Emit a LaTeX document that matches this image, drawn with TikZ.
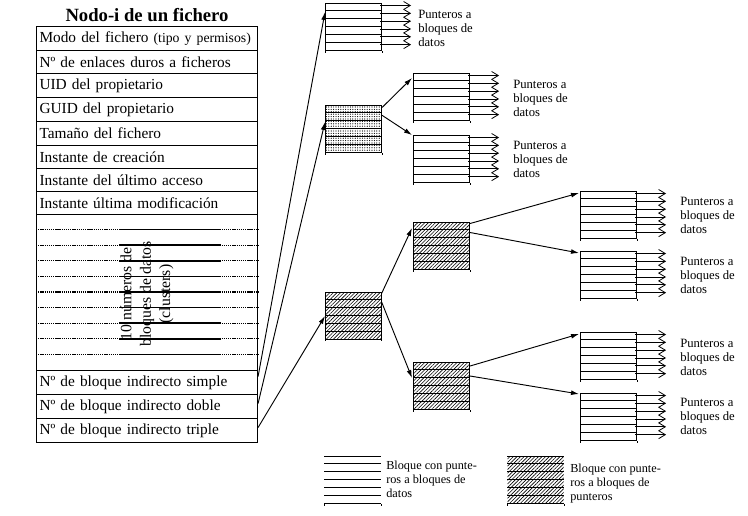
\documentclass[tikz,border=0pt]{standalone}
\usepackage{fontspec}
\setmainfont{Liberation Serif}
\usetikzlibrary{arrows.meta,patterns.meta,calc}

\tikzset{
  lw/.style={line width=0.7pt},
  row/.style={draw, line width=0.8pt, anchor=north west, minimum width=221*0.75pt,
    text width=215*0.75pt, align=left, inner xsep=2.25pt, inner ysep=0pt,
    font=\fontsize{11.5}{13}\selectfont},
  blk/.style={draw, line width=0.8pt, anchor=north west, minimum width=56*0.75pt,
    minimum height=47*0.75pt, inner sep=0pt},
  hatchfill/.style={pattern={Lines[angle=45,distance=1.9pt,line width=0.45pt]}},
  dotfill/.style={pattern={Dots[radius=0.45pt,distance=1.8pt]}},
  ptr/.style={line width=0.6pt, -{Straight Barb[length=5pt,width=6pt]}},
  conn/.style={line width=0.7pt, -{Latex[length=6pt,width=3.6pt]}},
  lbl/.style={anchor=north west, align=left, inner sep=0pt,
    font=\fontsize{9.5}{10.6}\selectfont},
}

\newcommand\blklines[1]{%
  \foreach \k in {1,...,5}{\draw[lw] ($(#1.north west)+(0,\k*7.83)$) -- ($(#1.north east)+(0,\k*7.83)$);}%
  \draw[lw] (#1.south west) -- ++(0,1.5) (#1.south east) -- ++(0,1.5);%
}
\newcommand\datablk[3]{%
  \node[blk] (#1) at (#2,#3) {};
  \blklines{#1}%
  \foreach \k in {0,...,5}{\draw[ptr] ($(#1.north east)+(-2,2.5+\k*7.83)$) -- ++(31,0);}%
}
\newcommand\ptrblk[4]{%
  \node[blk, #4] (#1) at (#2,#3) {};
  \blklines{#1}%
}

\begin{document}
\begin{tikzpicture}[x=0.75pt,y=-0.75pt]
\useasboundingbox (0,0) rectangle (748,515);

% ---- title and i-node table
\node[font=\bfseries\fontsize{14}{16}\selectfont] (title) at (147,15) {Nodo-i de un fichero};

\node[row, minimum height=23.5*0.75pt] (modo)  at (36,26)   {\mbox{Modo del fichero {\fontsize{10.3}{12}\selectfont(tipo y permisos)}}};
\node[row, minimum height=23.5*0.75pt] (enl)   at (36,49.5) {Nº de enlaces duros a ficheros};
\node[row, minimum height=24*0.75pt]   (uid)   at (36,73)   {UID del propietario};
\node[row, minimum height=24*0.75pt]   (guid)  at (36,97)   {GUID del propietario};
\node[row, minimum height=23.5*0.75pt] (tam)   at (36,121)  {Tamaño del fichero};
\node[row, minimum height=23.5*0.75pt] (crea)  at (36,144.5) {Instante de creación};
\node[row, minimum height=23*0.75pt]   (acc)   at (36,168)  {Instante del último acceso};
\node[row, minimum height=23*0.75pt]   (modi)  at (36,191)  {Instante última modificación};
\node[row, minimum height=156*0.75pt]  (blank) at (36,214)  {};
\node[row, minimum height=24*0.75pt]   (simple) at (36,370) {Nº de bloque indirecto simple};
\node[row, minimum height=24*0.75pt]   (doble)  at (36,394) {Nº de bloque indirecto doble};
\node[row, minimum height=24*0.75pt]   (triple) at (36,418) {Nº de bloque indirecto triple};

\node[rotate=90, align=center, inner sep=0pt, font=\fontsize{11.8}{14.5}\selectfont] (clus) at (147,294)
  {10 números de\\bloques de datos\\(clusters)};

\foreach \k in {1,...,9}{%
  \draw[line width=0.9pt, dash pattern=on 1pt off 0.6pt]
    ($(blank.north west)+(0,\k*15.6)$) -- ($(blank.north east)+(0,\k*15.6)$);
  \draw[line width=1.1pt] ($(blank.north west)+(83,\k*15.6)$) -- ++(102,0);
}

% ---- blocks
\datablk{A}{325}{3}
\ptrblk{B}{325}{105}{dotfill}
\datablk{C}{413}{73}
\datablk{D}{413}{135}
\ptrblk{E}{325}{292}{hatchfill}
\ptrblk{F}{413}{222}{hatchfill}
\ptrblk{G}{413}{362}{hatchfill}
\datablk{H}{580}{191}
\datablk{I}{580}{251}
\datablk{J}{580}{332}
\datablk{K}{580}{393}

% ---- labels
\node[lbl] (lA) at (418,10)  {Punteros a\\bloques de\\datos};
\node[lbl] (lC) at (513,80)  {Punteros a\\bloques de\\datos};
\node[lbl] (lD) at (513,141) {Punteros a\\bloques de\\datos};
\node[lbl] (lH) at (680,197) {Punteros a\\bloques de\\datos};
\node[lbl] (lI) at (680,257) {Punteros a\\bloques de\\datos};
\node[lbl] (lJ) at (680,339) {Punteros a\\bloques de\\datos};
\node[lbl] (lK) at (680,398) {Punteros a\\bloques de\\datos};

% ---- connectors
\draw[conn] ($(simple.east)+(0,-6)$) -- ($(A.north west)+(0,9)$);
\draw[conn] ($(doble.east)+(0,-3)$) -- ($(B.north west)+(0,17)$);
\draw[conn] ($(triple.east)+(0,-3)$) -- ($(E.north west)+(0,24)$);
\draw[conn] ($(B.north east)+(0,2.5)$) -- ($(C.north west)+(-1,5)$);
\draw[conn] ($(B.north east)+(0,10.3)$) -- ($(D.north west)+(-1,0)$);
\draw[conn] ($(E.north east)+(0,1.5)$) -- ($(F.north west)+(-1,6)$);
\draw[conn] ($(E.north east)+(0,10)$) -- ($(G.north west)+(-1,16)$);
\draw[conn] ($(F.north east)+(0,1.5)$) -- ($(H.north west)+(-1,2)$);
\draw[conn] ($(F.north east)+(0,10.5)$) -- ($(I.north west)+(-1,2)$);
\draw[conn] ($(G.north east)+(0,4)$) -- ($(J.north west)+(-1,2)$);
\draw[conn] ($(G.north east)+(0,14)$) -- ($(K.north west)+(-1,1)$);

% ---- legend
\node[blk, draw=none] (L1) at (324,456) {};
\foreach \k in {0,...,6}{\draw[lw] ($(L1.north west)+(0,\k*7.83)$) -- ($(L1.north east)+(0,\k*7.83)$);}
\draw[lw] (L1.south west) -- ++(0,1.5) (L1.south east) -- ++(0,1.5);
\node[lbl, font=\fontsize{9.2}{10.5}\selectfont] (t1) at (386,461) {Bloque con punte-\\ros a bloques de\\datos};

\node[blk, draw=none, hatchfill] (L2) at (507,456) {};
\foreach \k in {0,...,6}{\draw[lw] ($(L2.north west)+(0,\k*7.83)$) -- ($(L2.north east)+(0,\k*7.83)$);}
\draw[lw] (L2.south west) -- ++(0,1.5) (L2.south east) -- ++(0,1.5);
\node[lbl, font=\fontsize{9.2}{10.5}\selectfont] (t2) at (570,464) {Bloque con punte-\\ros a bloques de\\punteros};
\end{tikzpicture}
\end{document}
